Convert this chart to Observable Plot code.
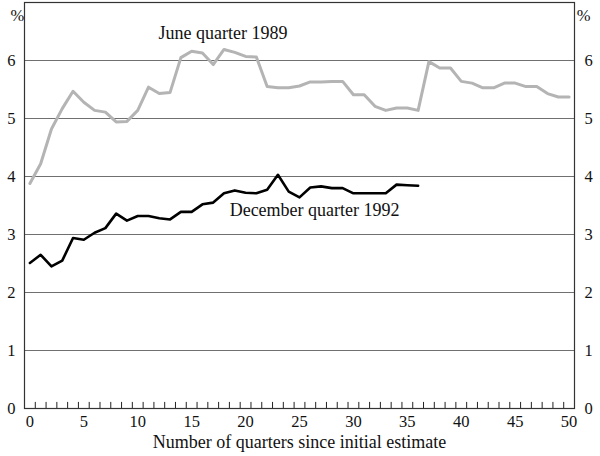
<!DOCTYPE html>
<html>
<head>
<meta charset="utf-8">
<script src="https://cdn.jsdelivr.net/npm/d3@7"></script>
<script src="https://cdn.jsdelivr.net/npm/@observablehq/plot@0.6"></script>
<style>
  html, body { margin: 0; padding: 0; background: #fff; }
</style>
</head>
<body>
<div id="chart"></div>
<script>
const june1989 = [3.88, 4.22, 4.82, 5.17, 5.47, 5.28, 5.14, 5.11, 4.94, 4.95,
  5.14, 5.54, 5.43, 5.45, 6.05, 6.16, 6.13, 5.93, 6.19, 6.14,
  6.07, 6.06, 5.55, 5.53, 5.53, 5.56, 5.63, 5.63, 5.64, 5.64,
  5.41, 5.41, 5.21, 5.14, 5.18, 5.18, 5.14, 5.98, 5.87, 5.87,
  5.64, 5.61, 5.53, 5.53, 5.61, 5.61, 5.55, 5.55, 5.43, 5.37, 5.37];
const dec1992 = [2.51, 2.65, 2.45, 2.55, 2.94, 2.91, 3.03, 3.11, 3.36, 3.24,
  3.32, 3.32, 3.28, 3.26, 3.39, 3.39, 3.52, 3.55, 3.71, 3.76,
  3.72, 3.71, 3.77, 4.03, 3.74, 3.64, 3.81, 3.83, 3.80, 3.80,
  3.71, 3.71, 3.71, 3.71, 3.86, 3.85, 3.84];
const xTickLabels = [0, 5, 10, 15, 20, 25, 30, 35, 40, 45, 50];
const yTickLabels = [0, 1, 2, 3, 4, 5, 6];
const gridValues = [1, 2, 3, 4, 5, 6];
const minorTicks = d3.range(0.5, 50, 1);
const seriesLabels = [
  {text: "June quarter 1989", x: 17.9, y: 6.47},
  {text: "December quarter 1992", x: 26.4, y: 3.41}
];

const font = "'Liberation Serif', 'DejaVu Serif', serif";

const chart = Plot.plot({
  width: 600,
  height: 456,
  marginLeft: 24,
  marginRight: 26,
  marginTop: 2,
  marginBottom: 48,
  style: {fontFamily: font, fontSize: "16px", background: "#fff", color: "#111"},
  x: {domain: [-0.5, 50.5]},
  y: {domain: [0, 7]},
  marks: [
    Plot.ruleY(gridValues, {stroke: "#707070", strokeWidth: 1.2}),
    Plot.ruleX(minorTicks, {x: d => d, y1: 0, y2: 0.105, stroke: "#222", strokeWidth: 1}),
    Plot.lineY(june1989, {x: (d, i) => i, y: d => d, stroke: "#b4b4b4", strokeWidth: 3}),
    Plot.lineY(dec1992, {x: (d, i) => i, y: d => d, stroke: "#000", strokeWidth: 2.6}),
    Plot.frame({stroke: "#333", strokeWidth: 1.2}),
    Plot.axisX(xTickLabels, {tickSize: 0, tickPadding: 7, fontSize: 16.5, tickFormat: "d", label: null}),
    Plot.axisY(yTickLabels, {anchor: "left", tickSize: 0, tickPadding: 9, fontSize: 16.5, tickFormat: "d", label: null}),
    Plot.axisY(yTickLabels, {anchor: "right", tickSize: 0, tickPadding: 10, fontSize: 16.5, tickFormat: "d", label: null}),
    Plot.text(["%"], {frameAnchor: "top-left", dx: -14, dy: 7, fontSize: 16.5}),
    Plot.text(["%"], {frameAnchor: "top-right", dx: 16, dy: 7, fontSize: 16.5}),
    Plot.text(seriesLabels, {x: "x", y: "y", text: "text", fontSize: 18, fill: "#111"}),
    Plot.text(["Number of quarters since initial estimate"], {frameAnchor: "bottom", dy: 39, fontSize: 18})
  ]
});
document.getElementById("chart").appendChild(chart);
</script>
</body>
</html>
